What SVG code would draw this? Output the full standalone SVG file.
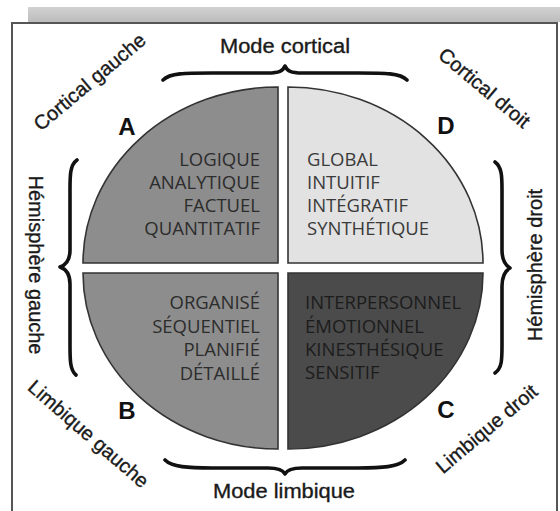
<svg xmlns="http://www.w3.org/2000/svg" width="560" height="511" viewBox="0 0 560 511">
  <defs>
    <linearGradient id="bar" x1="0" y1="0" x2="0" y2="1">
      <stop offset="0" stop-color="#d2d2d2"/>
      <stop offset="1" stop-color="#bcbcbc"/>
    </linearGradient>
    <style>
      .quad { stroke: #333; stroke-width: 1.6; }
      .qt { font-family: "Open Sans", "Noto Sans", sans-serif; font-size: 18.5px; }
      .qa { fill: #2c2c2c; text-anchor: end; }
      .qd { fill: #3a3a3a; }
      .qc { fill: #1c1c1c; }
      .lbl { font-family: "Liberation Sans", Arial, sans-serif; font-size: 20px; fill: #1a1a1a; stroke: #1a1a1a; stroke-width: 0.35; }
      .letter { font-family: "Liberation Sans", Arial, sans-serif; font-size: 24px; font-weight: bold; fill: #111; text-anchor: middle; }
      .brace { fill: none; stroke: #111; stroke-width: 3.6; stroke-linecap: round; stroke-linejoin: round; }
    </style>
  </defs>

  <rect x="0" y="0" width="560" height="511" fill="#ffffff"/>
  <rect x="28" y="7" width="532" height="15" fill="url(#bar)"/>
  <rect x="12" y="23" width="545" height="500" fill="#ffffff" stroke="#555" stroke-width="2"/>

  <g id="quadrant-A">
    <path class="quad" d="M278,263 L83,263 A195,176 0 0 1 278,87 Z" fill="#8d8d8d"/>
    <text class="qt qa" x="260" y="166">LOGIQUE</text>
    <text class="qt qa" x="260" y="189">ANALYTIQUE</text>
    <text class="qt qa" x="260" y="212">FACTUEL</text>
    <text class="qt qa" x="260" y="235">QUANTITATIF</text>
    <text class="letter" x="127" y="135">A</text>
  </g>

  <g id="quadrant-D">
    <path class="quad" d="M288,263 L288,87 A195,176 0 0 1 483,263 Z" fill="#e2e2e2"/>
    <text class="qt qd" x="307" y="166">GLOBAL</text>
    <text class="qt qd" x="307" y="189">INTUITIF</text>
    <text class="qt qd" x="307" y="212">INTÉGRATIF</text>
    <text class="qt qd" x="307" y="235">SYNTHÉTIQUE</text>
    <text class="letter" x="446" y="134">D</text>
  </g>

  <g id="quadrant-B">
    <path class="quad" d="M278,273 L278,449 A195,176 0 0 1 83,273 Z" fill="#8d8d8d"/>
    <text class="qt qa" x="260" y="309">ORGANISÉ</text>
    <text class="qt qa" x="260" y="333">SÉQUENTIEL</text>
    <text class="qt qa" x="260" y="356">PLANIFIÉ</text>
    <text class="qt qa" x="260" y="380">DÉTAILLÉ</text>
    <text class="letter" x="127" y="419">B</text>
  </g>

  <g id="quadrant-C">
    <path class="quad" d="M288,273 L483,273 A195,176 0 0 1 288,449 Z" fill="#4b4b4b"/>
    <text class="qt qc" x="305" y="309">INTERPERSONNEL</text>
    <text class="qt qc" x="305" y="333">ÉMOTIONNEL</text>
    <text class="qt qc" x="305" y="356">KINESTHÉSIQUE</text>
    <text class="qt qc" x="305" y="379">SENSITIF</text>
    <text class="letter" x="446" y="418">C</text>
  </g>

  <g id="braces">
    <path class="brace" d="M163,80 C170,73 185,73 212,73 L268,73 C279,73 283,71 285,66 C287,71 291,73 302,73 L358,73 C385,73 400,73 407,80"/>
    <path class="brace" d="M165,460 C172,467 188,468 212,468 L268,468 C279,468 283,470 285,474 C287,470 291,468 302,468 L358,468 C382,468 398,467 405,460"/>
    <path class="brace" d="M77,160 C70,165 70,175 70,190 L70,250 C70,260 66,265 60,267 C66,269 70,274 70,284 L70,345 C70,360 70,370 76,375"/>
    <path class="brace" d="M495,162 C502,167 502,177 502,190 L502,250 C502,260 505,265 510,268 C505,271 502,276 502,286 L502,345 C502,360 502,368 495,373"/>
  </g>

  <g id="labels">
    <text class="lbl" x="285" y="53" text-anchor="middle" textLength="130" lengthAdjust="spacingAndGlyphs">Mode cortical</text>
    <text class="lbl" x="284" y="498" text-anchor="middle" textLength="142" lengthAdjust="spacingAndGlyphs">Mode limbique</text>
    <text class="lbl" text-anchor="middle" transform="translate(29,265) rotate(90)">Hémisphère gauche</text>
    <text class="lbl" text-anchor="middle" transform="translate(542,265) rotate(-90)">Hémisphère droit</text>
    <text class="lbl" text-anchor="middle" transform="translate(94,87) rotate(-40)">Cortical gauche</text>
    <text class="lbl" text-anchor="middle" transform="translate(480,93) rotate(40)">Cortical droit</text>
    <text class="lbl" text-anchor="middle" transform="translate(84,439) rotate(41)">Limbique gauche</text>
    <text class="lbl" text-anchor="middle" transform="translate(491,434) rotate(-40)">Limbique droit</text>
  </g>
</svg>
